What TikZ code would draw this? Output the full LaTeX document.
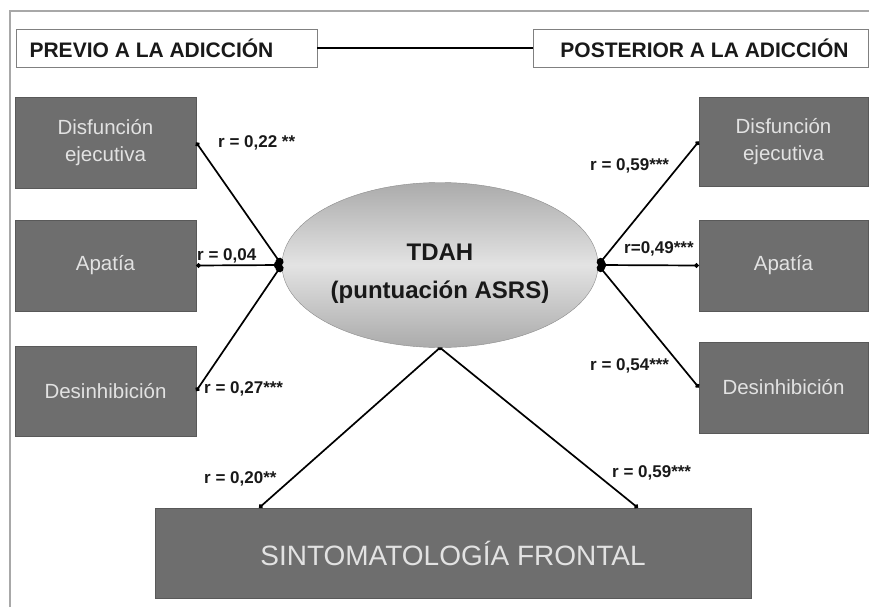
\documentclass[tikz,border=0pt]{standalone}
\usepackage{fontspec}
\setmainfont{Liberation Sans}
\usetikzlibrary{arrows.meta,shapes.geometric,calc}

\definecolor{boxgray}{HTML}{6E6E6E}
\definecolor{boxtext}{HTML}{E2E2E2}
\definecolor{framegray}{HTML}{A8A8A8}

\tikzset{
factor/.style={
  rectangle, draw=black!65, fill=boxgray, text=boxtext,
  align=center, inner sep=0pt,
  font=\fontsize{20.5}{27}\selectfont
  },
period/.style={
  rectangle, draw=black!50, fill=white, text=black!90,
  inner sep=0pt, minimum height=38pt,
  font=\bfseries\fontsize{21}{24}\selectfont
  },
tdah/.style={
  ellipse, draw=black!45, inner sep=0pt,
  minimum width=316pt, minimum height=165pt,
  top color=black!33, bottom color=black!33, middle color=black!11,
  align=center, text=black!90,
  font=\bfseries\fontsize{24}{38}\selectfont
  },
corr/.style={
  line width=1.7pt,
  {Circle[length=8pt]}-{Circle[length=4.5pt]}
  },
rlab/.style={
  anchor=west, inner sep=0pt, text=black!90,
  font=\bfseries\fontsize{17}{19}\selectfont
  }
}

\begin{document}
\begin{tikzpicture}[x=1pt,y=-1pt]
\useasboundingbox (0,0) rectangle (869,607);

% frame
\draw[framegray, line width=1.5pt] (10,607) -- (10,11) -- (869,11);

% periods
\node[period, minimum width=301pt] (prev) at (166.5,48)
  {\hspace*{-30pt}PREVIO A LA ADICCIÓN};
\node[period, minimum width=335pt] (post) at (700.5,48)
  {\hspace*{8pt}POSTERIOR A LA ADICCIÓN};
\draw[line width=1.7pt] (prev.east) -- (post.west);

% TDAH
\node[tdah] (asrs) at (440,265)
  {\rule{0pt}{33pt}TDAH\\(puntuación ASRS)};

% before
\node[factor, minimum width=181pt, minimum height=91pt] (pre-dis) at (105.5,142.5)
  {Disfunción\\ejecutiva};
\node[factor, minimum width=181pt, minimum height=91pt] (pre-apa) at (105.5,265.5)
  {Apatía};
\node[factor, minimum width=181pt, minimum height=90pt] (pre-des) at (105.5,391)
  {Desinhibición};

% after
\node[factor, minimum width=169pt, minimum height=89pt] (pos-dis) at (783.5,141.5)
  {Disfunción\\ejecutiva};
\node[factor, minimum width=169pt, minimum height=91pt] (pos-apa) at (783.5,265.5)
  {Apatía};
\node[factor, minimum width=169pt, minimum height=91pt] (pos-des) at (783.5,387.5)
  {Desinhibición};

% frontal
\node[factor, minimum width=596pt, minimum height=90pt,
  font=\fontsize{28}{30}\selectfont] (front) at (453,553)
  {SINTOMATOLOGÍA FRONTAL};
\coordinate (front-l) at ($(front.north west)!0.175!(front.north east)$);
\coordinate (front-r) at ($(front.north west)!0.81!(front.north east)$);

% links
\draw[corr] (asrs.west) -- (pre-dis.east);
\draw[corr] (asrs.west) -- (pre-apa.east);
\draw[corr] (asrs.west) -- (pre-des.east);
\draw[corr] (asrs.east) -- (pos-dis.west);
\draw[corr] (asrs.east) -- (pos-apa.west);
\draw[corr] (asrs.east) -- (pos-des.west);
\draw[corr, {Circle[length=3pt]}-{Circle[length=4.5pt]}] (asrs.south) -- (front-l);
\draw[corr, {Circle[length=3pt]}-{Circle[length=4.5pt]}] (asrs.south) -- (front-r);

% r values
\node[rlab] (r-pre-dis) at (218,143) {r = 0,22 **};
\node[rlab] (r-pre-apa) at (197,256) {r = 0,04};
\node[rlab] (r-pre-des) at (204,389) {r = 0,27***};
\node[rlab] (r-pos-dis) at (590,166) {r = 0,59***};
\node[rlab] (r-pos-apa) at (624,249) {r=0,49***};
\node[rlab] (r-pos-des) at (590,366) {r = 0,54***};
\node[rlab] (r-front-l) at (204,479) {r = 0,20**};
\node[rlab] (r-front-r) at (612,473) {r = 0,59***};

\end{tikzpicture}
\end{document}
